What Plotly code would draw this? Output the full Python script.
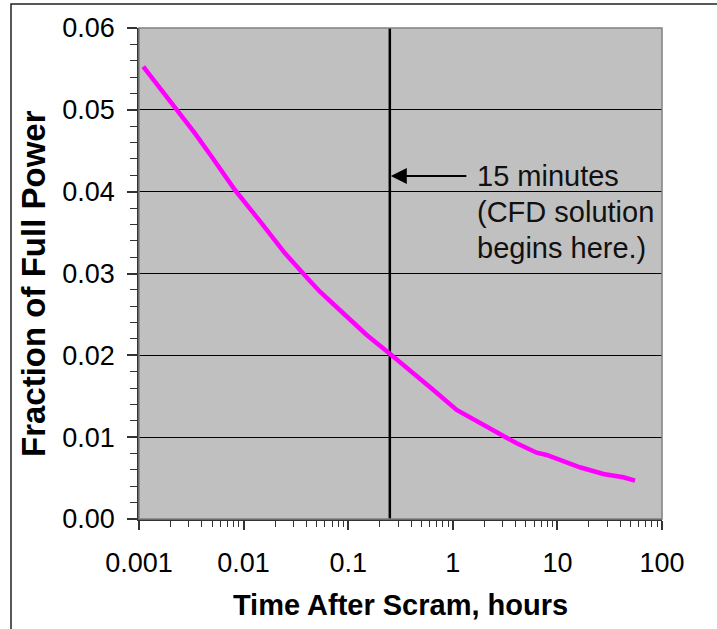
import numpy as np
import plotly.graph_objects as go

# Data
time_hours = [0.001099, 0.001648, 0.002292, 0.00343, 0.004955, 0.008277, 0.01489,
              0.02489, 0.0416, 0.0537, 0.0897, 0.1503, 0.247, 0.390, 0.652, 1.089,
              1.958, 2.827, 4.08, 6.34, 7.90, 16.4, 27.5, 42.7, 55.2]
fraction_power = [0.05527, 0.05242, 0.04998, 0.04713, 0.04427, 0.0402, 0.03613,
                  0.03247, 0.02929, 0.02778, 0.02514, 0.02249, 0.02025, 0.01821,
                  0.01576, 0.01332, 0.01149, 0.01026, 0.00925, 0.0081, 0.00782,
                  0.00632, 0.0055, 0.0051, 0.00468]

cfd_start_hours = 0.25  # 15 minutes
y_range = [0.0, 0.06]
x_tick_vals = [0.001, 0.01, 0.1, 1, 10, 100]
x_tick_text = ["0.001", "0.01", "0.1", "1", "10", "100"]
y_tick_vals = [0.00, 0.01, 0.02, 0.03, 0.04, 0.05, 0.06]
y_tick_text = ["0.00", "0.01", "0.02", "0.03", "0.04", "0.05", "0.06"]

FONT = "Arial, Liberation Sans, sans-serif"

fig = go.Figure()
fig.add_trace(go.Scatter(x=[cfd_start_hours, cfd_start_hours], y=y_range,
                         mode="lines", line=dict(color="black", width=2.5),
                         showlegend=False, hoverinfo="skip"))
fig.add_trace(go.Scatter(x=time_hours, y=fraction_power, mode="lines",
                         line=dict(color="#FF00FF", width=4.5), showlegend=False))

# plot-area geometry in pixels (for paper-coordinate decorations)
W, H = 717, 629
L, R, T, B = 139, 55, 28, 110
pw, ph = W - L - R, H - T - B


def px(xp):
    return (xp - L) / pw


def py(yp):
    return (H - B - yp) / ph


text_font = dict(size=29, color="#111111")

fig.update_layout(
    width=W, height=H,
    margin=dict(l=L, r=R, t=T, b=B, pad=0),
    paper_bgcolor="white",
    plot_bgcolor="#C0C0C0",
    font=dict(family=FONT, size=27, color="black"),
    showlegend=False,
    xaxis=dict(
        type="log", range=[-3, 2], tickvals=x_tick_vals, ticktext=x_tick_text,
        showgrid=False, zeroline=False, showline=True, linecolor="#333333", linewidth=1.5,
        ticks="outside", ticklen=9, tickwidth=1.5, tickcolor="#333333",
        ticklabelstandoff=10,
        minor=dict(ticks="outside", ticklen=6, tickwidth=1, tickcolor="#333333",
                   dtick="D1", showgrid=False),
        title=dict(text="<b>Time After Scram, hours</b>", font=dict(size=29), standoff=18),
    ),
    yaxis=dict(
        range=y_range, tickvals=y_tick_vals, ticktext=y_tick_text,
        showgrid=True, gridcolor="black", gridwidth=1, zeroline=False,
        showline=True, linecolor="#333333", linewidth=1.5,
        ticks="outside", ticklen=10, tickwidth=1.5, tickcolor="#333333",
        ticklabelstandoff=7,
        minor=dict(ticks="outside", ticklen=7, tickwidth=1, tickcolor="#333333",
                   dtick=0.002, showgrid=False),
    ),
    shapes=[
        dict(type="rect", xref="paper", yref="paper", x0=0, y0=0, x1=1, y1=1,
             line=dict(color="#808080", width=1.5), layer="above"),
        dict(type="rect", xref="paper", yref="paper", x0=px(11), y0=py(640),
             x1=px(730), y1=py(4), line=dict(color="#222222", width=1.5)),
    ],
    annotations=[
        dict(x=px(33), y=py(284), xref="paper", yref="paper", textangle=-90,
             xanchor="center", yanchor="middle", showarrow=False,
             text="<b>Fraction of Full Power</b>", font=dict(size=33, color="black")),
        dict(x=np.log10(cfd_start_hours), y=0.0419, xref="x", yref="y",
             ax=78, ay=0, axref="pixel", ayref="pixel", text="", showarrow=True,
             arrowhead=2, arrowsize=1.6, arrowwidth=2, arrowcolor="black", standoff=1),
        dict(x=px(475), y=py(176), xref="paper", yref="paper",
             xanchor="left", yanchor="middle",
             text="15 minutes", showarrow=False, font=text_font),
        dict(x=px(475), y=py(212), xref="paper", yref="paper",
             xanchor="left", yanchor="middle",
             text="(CFD solution", showarrow=False, font=text_font),
        dict(x=px(475), y=py(248), xref="paper", yref="paper",
             xanchor="left", yanchor="middle",
             text="begins here.)", showarrow=False, font=text_font),
    ],
)

fig.write_html("out.html", config={"displayModeBar": False},
               post_script="document.body.style.margin='0';")
